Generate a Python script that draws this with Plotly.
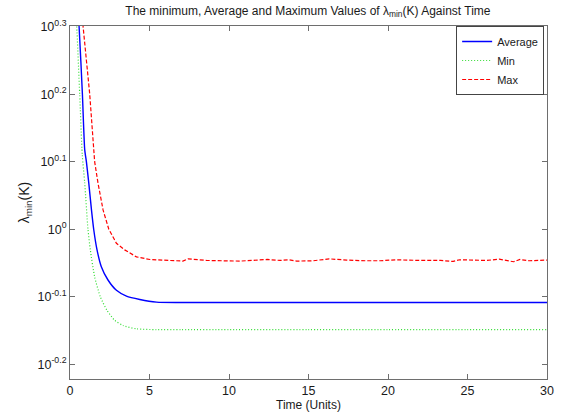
import math
import plotly.graph_objects as go

# ---- data ----
avg_t = [0.50, 0.57, 0.78, 0.925, 1.03, 1.18, 1.35, 1.49, 1.70, 1.97, 2.39, 2.92, 3.55, 4.39, 5.44, 6.9, 10.0, 15.0, 20.0, 25.0, 30.0]
avg_v = [2.10, 2.00, 1.585, 1.312, 1.259, 1.171, 1.068, 1.00, 0.932, 0.880, 0.841, 0.812, 0.796, 0.787, 0.780, 0.779, 0.779, 0.779, 0.779, 0.779, 0.779]

min_t = [0.35, 0.42, 0.61, 0.77, 0.925, 1.13, 1.28, 1.55, 1.91, 2.33, 2.81, 3.34, 4.18, 5.44, 7.0, 10.0, 15.0, 20.0, 25.0, 30.0]
min_v = [2.10, 2.00, 1.585, 1.290, 1.171, 1.00, 0.932, 0.850, 0.794, 0.758, 0.733, 0.720, 0.712, 0.710, 0.710, 0.710, 0.710, 0.710, 0.710, 0.710]

max_t = [0.75, 0.82, 1.24, 1.49, 1.55, 1.76, 2.08, 2.44, 2.92, 3.44, 4.18, 5.02, 6.07, 6.48, 7.10, 7.43, 8.58, 10.7, 12.4, 13.2, 13.8,
         14.25, 15.3, 16.3, 17.4, 18.65, 19.5, 20.5, 21.6, 22.0, 23.3, 24.1, 24.5, 26.2, 27.0, 27.9, 28.3, 28.9, 30.0]
max_v = [2.10, 2.00, 1.585, 1.312, 1.259, 1.171, 1.068, 1.00, 0.953, 0.932, 0.910, 0.902, 0.900, 0.899, 0.897, 0.904, 0.899, 0.897, 0.902, 0.899, 0.901,
         0.897, 0.898, 0.904, 0.900, 0.898, 0.898, 0.901, 0.898, 0.899, 0.899, 0.896, 0.901, 0.899, 0.903, 0.895, 0.902, 0.898, 0.900]

y_tick_exps = ["-0.2", "-0.1", "0", "0.1", "0.2", "0.3"]

font_family = "Arial, Liberation Sans, sans-serif"
ink = "#1a1a1a"
axis_col = "#6e6e6e"

fig = go.Figure()
fig.add_trace(go.Scatter(x=avg_t, y=avg_v, mode="lines", name="Average",
                         line=dict(color="#0000ff", width=1.4, shape="spline", smoothing=0.6)))
fig.add_trace(go.Scatter(x=min_t, y=min_v, mode="lines", name="Min",
                         line=dict(color="#33dd33", width=1.2, dash="1px,2px", shape="spline", smoothing=0.6)))
fig.add_trace(go.Scatter(x=max_t, y=max_v, mode="lines", name="Max",
                         line=dict(color="#ff0000", width=1.2, dash="4px,2px")))

fig.update_layout(
    width=565, height=415,
    margin=dict(l=70, r=18, t=26, b=36),
    paper_bgcolor="white", plot_bgcolor="white",
    font=dict(family=font_family, size=12, color=ink),
    title=dict(text="The minimum, Average and Maximum Values of λ<sub>min</sub>(K) Against Time",
               x=0.545, xanchor="center", y=0.975, yanchor="middle",
               font=dict(size=12, color=ink)),
    showlegend=True,
    legend=dict(x=0.994, xanchor="right", y=1.0, yanchor="top",
                bordercolor="#444", borderwidth=1, bgcolor="white",
                font=dict(size=11, color=ink), itemwidth=30,
                tracegroupgap=0),
)

fig.update_xaxes(
    range=[0, 30], tickvals=[0, 5, 10, 15, 20, 25, 30],
    showgrid=False, zeroline=False, automargin=False,
    showline=True, linecolor=axis_col, linewidth=1, mirror="allticks",
    ticks="inside", ticklen=5, tickcolor=axis_col,
    tickfont=dict(size=12.5, color=ink), ticklabelstandoff=0,
    title=dict(text="Time (Units)", font=dict(size=12, color=ink), standoff=0),
)

fig.update_yaxes(
    type="log", range=[math.log10(0.6), math.log10(2.0)],
    tickvals=[10 ** float(e) for e in y_tick_exps],
    ticktext=["10<sup>%s</sup>" % e for e in y_tick_exps],
    showgrid=False, zeroline=False, automargin=False,
    showline=True, linecolor=axis_col, linewidth=1, mirror="allticks",
    ticks="inside", ticklen=5, tickcolor=axis_col,
    tickfont=dict(size=12.5, color=ink),
    title=dict(text="λ<sub>min</sub>(K)", font=dict(size=14, color=ink), standoff=4),
)

fig.write_html("out.html", config={"displayModeBar": False},
               post_script="document.body.style.margin='0';")
